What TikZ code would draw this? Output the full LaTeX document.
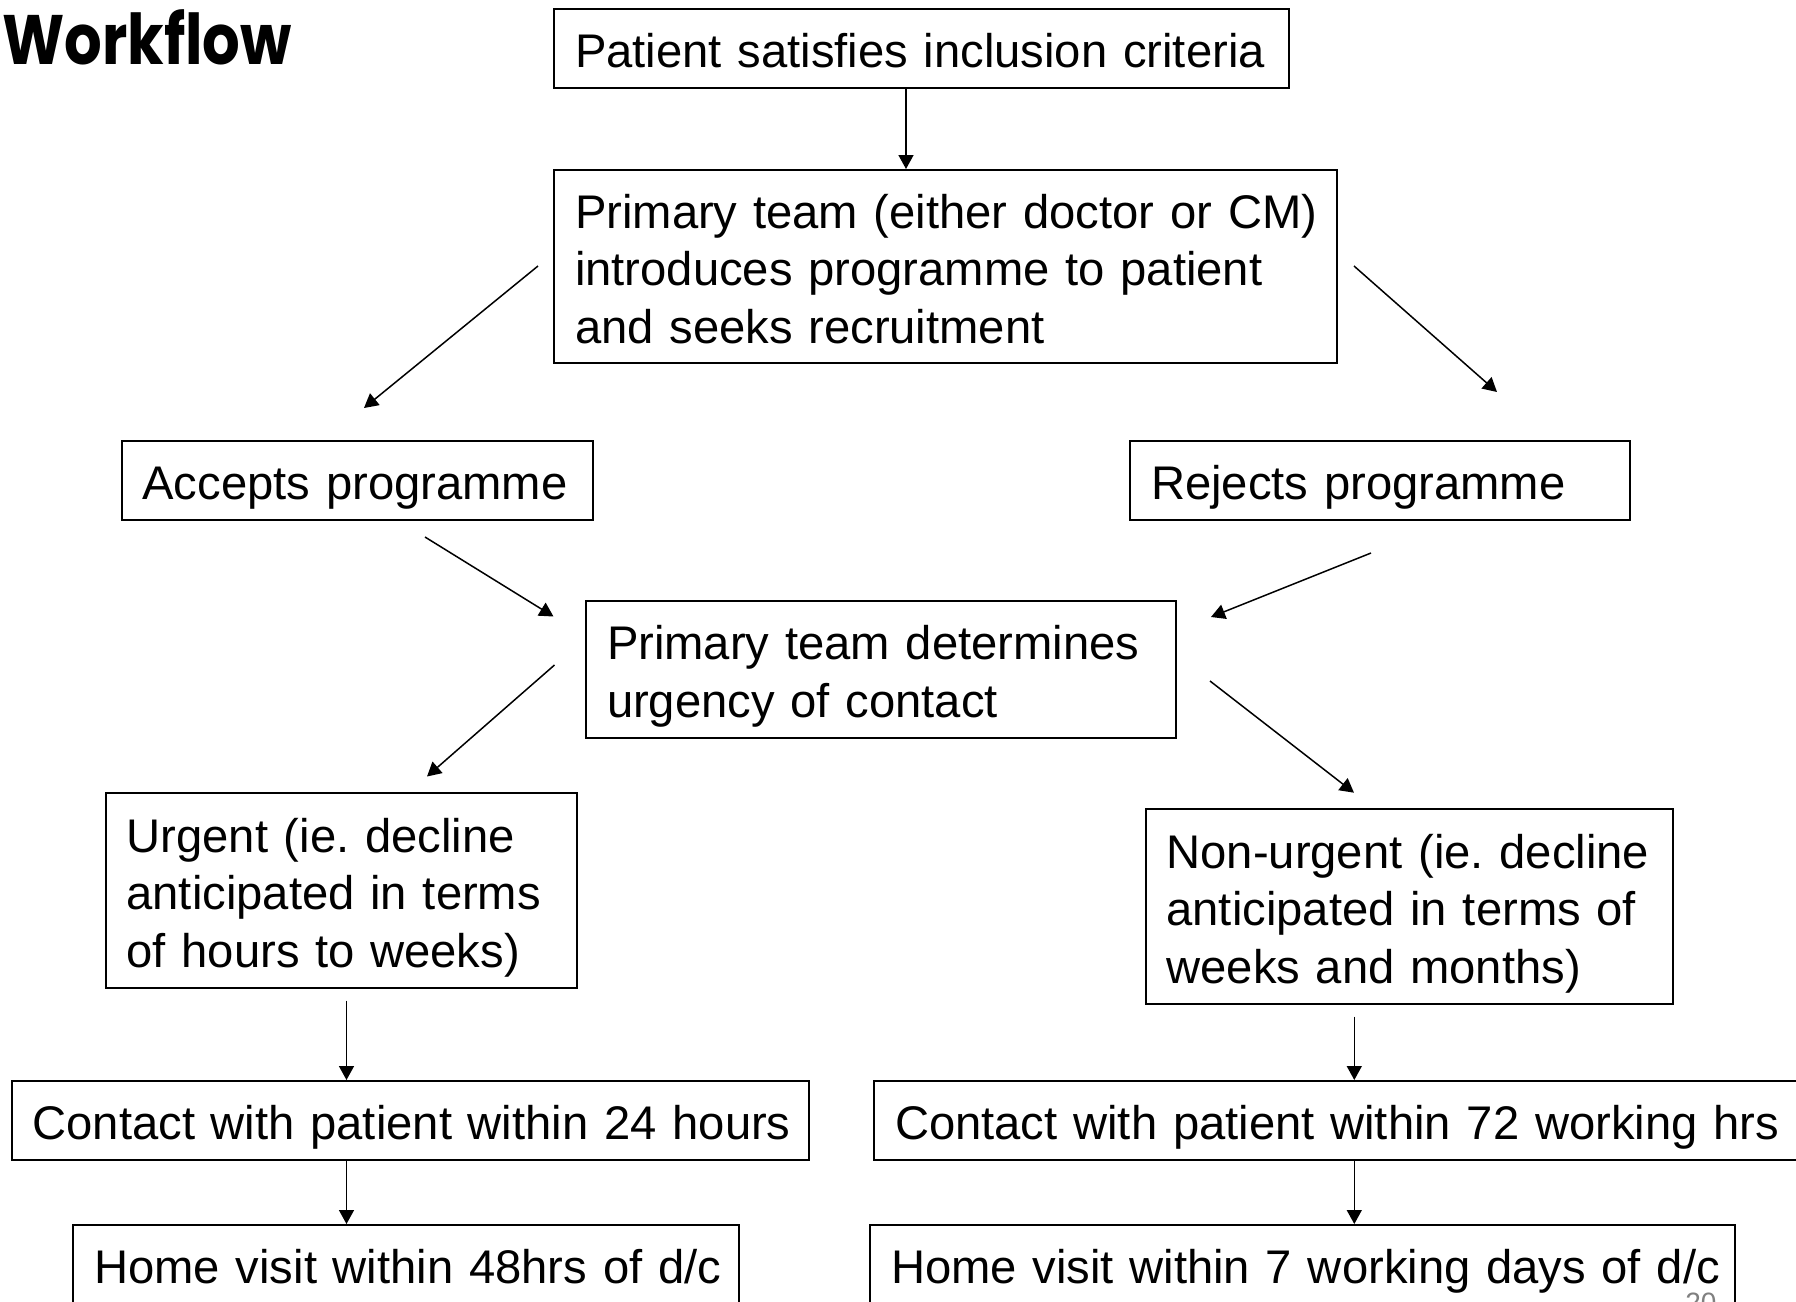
\documentclass[tikz,border=0pt]{standalone}
\usepackage{fontspec}
\setmainfont{Liberation Sans}
\newfontfamily\titlefont{Poppins}
\usetikzlibrary{arrows.meta}
\newcommand{\boxline}[1]{\mbox{\rule[-0.212em]{0pt}{1.117em}#1}}
\newcommand{\boxfirst}[1]{\mbox{\rule[-0.212em]{0pt}{\dimexpr1.117em+3pt\relax}#1}}
\frenchspacing
\begin{document}
\begin{tikzpicture}[x=0.5pt,y=-0.5pt,
  box/.style={draw=black, line width=1pt, rectangle, inner xsep=10.5pt, inner ysep=0pt,
    align=left, font=\fontsize{23.6}{28.9}\selectfont\frenchspacing, anchor=center},
  conn/.style={line width=0.75pt, -{Triangle[length=7pt,width=7.5pt]}}]
\useasboundingbox (0,0) rectangle (1796,1302);
\clip (0,0) rectangle (1796,1302);
\fill[white] (0,0) rectangle (1796,1302);

\node[anchor=base west, inner sep=0pt, font=\titlefont\bfseries\fontsize{35}{40}\selectfont] (title) at (2,64) {\scalebox{0.845}[1]{Workflow}};

\node[box, minimum width=367.5pt, minimum height=39.5pt, text width=346.5pt] (b1) at (921.5,48.5)
  {\boxfirst{Patient satisfies inclusion criteria}};
\node[box, minimum width=391.5pt, minimum height=96.5pt, text width=370.5pt] (b2) at (945.5,266.5)
  {\boxfirst{Primary team (either doctor or CM)}\\\boxline{introduces programme to patient}\\\boxline{and seeks recruitment}};
\node[box, minimum width=235.5pt, minimum height=39.5pt, text width=214.5pt] (b3) at (357,480.5)
  {\boxfirst{Accepts programme}};
\node[box, minimum width=250pt, minimum height=39.5pt, text width=229pt] (b4) at (1380,480.5)
  {\boxfirst{Rejects programme}};
\node[box, minimum width=295pt, minimum height=68.5pt, text width=274pt] (b5) at (881,669.5)
  {\boxfirst{Primary team determines}\\\boxline{urgency of contact}};
\node[box, minimum width=235.5pt, minimum height=97.5pt, text width=214.5pt] (b6) at (341,890.5)
  {\boxfirst{Urgent (ie. decline}\\\boxline{anticipated in terms}\\\boxline{of hours to weeks)}};
\node[box, minimum width=263.5pt, minimum height=97.5pt, text width=242.5pt] (b7) at (1409,906.5)
  {\boxfirst{Non-urgent (ie. decline}\\\boxline{anticipated in terms of}\\\boxline{weeks and months)}};
\node[box, minimum width=398.5pt, minimum height=39.5pt, text width=377.5pt] (b8) at (410,1120.5)
  {\boxfirst{Contact with patient within 24 hours}};
\node[box, minimum width=468pt, minimum height=39.5pt, text width=447pt] (b9) at (1342,1120.5)
  {\boxfirst{Contact with patient within 72 working hrs}};
\node[box, minimum width=332.75pt, minimum height=39.5pt, text width=311.75pt] (b10) at (406,1264.5)
  {\boxfirst{Home visit within 48hrs of d/c}};
\node[box, minimum width=432.5pt, minimum height=39.5pt, text width=411.5pt] (b11) at (1302.5,1264.5)
  {\boxfirst{Home visit within 7 working days of d/c}};

\node[anchor=north west, inner sep=0pt, text=gray, font=\fontsize{14}{16}\selectfont] (pg) at (1685,1293) {20};

% connector coordinates
\coordinate (xa1) at (906,0);
\coordinate (a2s) at (538,266);   \coordinate (a2e) at (364,408);
\coordinate (a3s) at (1354,266);  \coordinate (a3e) at (1497,392);
\coordinate (a4s) at (425,537);   \coordinate (a4e) at (553.5,616.5);
\coordinate (a5s) at (1371,553);  \coordinate (a5e) at (1211,617);
\coordinate (a6s) at (554.5,665); \coordinate (a6e) at (427,776.5);
\coordinate (a7s) at (1210,681);  \coordinate (a7e) at (1354,792.7);
\coordinate (a8s) at (346.5,1000.7);
\coordinate (a9s) at (1354.3,1016.7);

\draw[conn] (b1.south -| xa1) -- (b2.north -| xa1);
\draw[conn] (a2s) -- (a2e);
\draw[conn] (a3s) -- (a3e);
\draw[conn] (a4s) -- (a4e);
\draw[conn] (a5s) -- (a5e);
\draw[conn] (a6s) -- (a6e);
\draw[conn] (a7s) -- (a7e);
\draw[conn] (a8s) -- (b8.north -| a8s);
\draw[conn] (a9s) -- (b9.north -| a9s);
\draw[conn] (b8.south -| a8s) -- (b10.north -| a8s);
\draw[conn] (b9.south -| a9s) -- (b11.north -| a9s);
\end{tikzpicture}
\end{document}
